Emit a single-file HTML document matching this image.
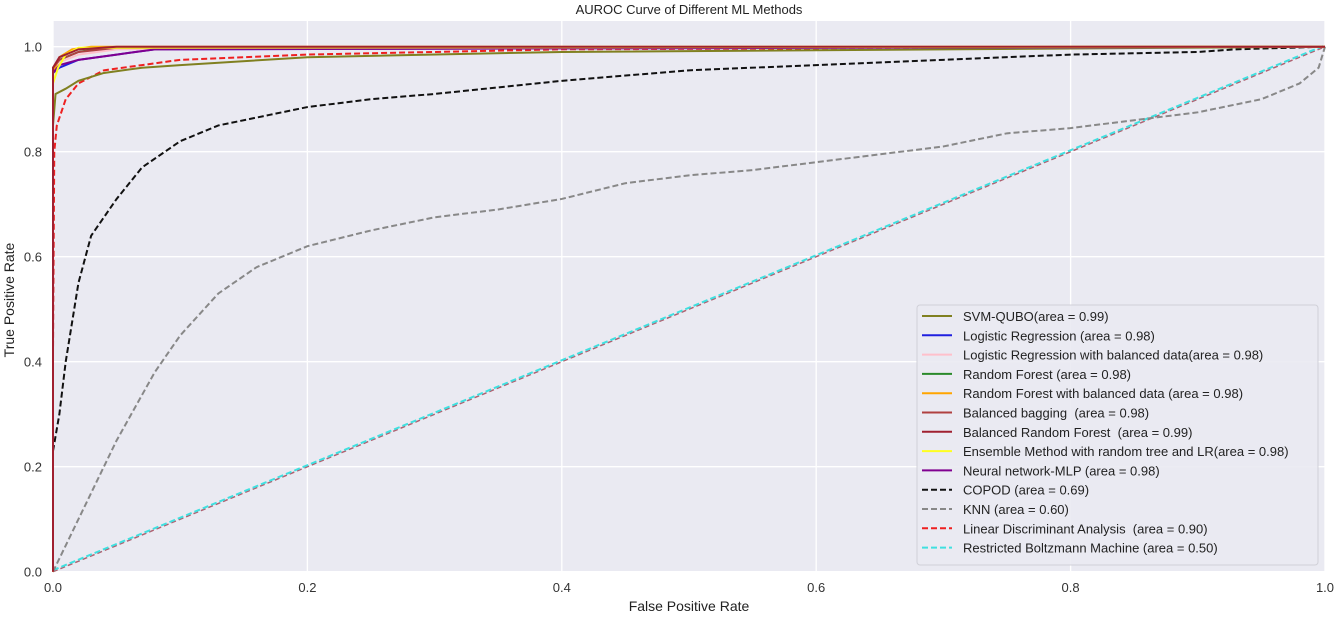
<!DOCTYPE html>
<html><head><meta charset="utf-8"><style>
body{margin:0;background:#fff;font-family:"Liberation Sans",sans-serif;}
#legend text{white-space:pre;}
</style></head><body>
<svg id="chart" width="1336" height="616" xmlns="http://www.w3.org/2000/svg" font-family="Liberation Sans, sans-serif">
<text x="689" y="14" text-anchor="middle" font-size="13" fill="#222">AUROC Curve of Different ML Methods</text>
<rect x="53" y="21" width="1272" height="551" fill="#eaeaf2"/>
<g id="grid"></g><g id="curves"></g><g id="ticks"></g>
<text x="689" y="611" text-anchor="middle" font-size="14" fill="#222">False Positive Rate</text>
<text x="14" y="300" text-anchor="middle" font-size="14" fill="#222" transform="rotate(-90 14 300)">True Positive Rate</text>
<g id="legend"></g>
</svg>
<script>
const xTicks=[0,0.2,0.4,0.6,0.8,1.0];
const yTicks=[0,0.2,0.4,0.6,0.8,1.0];
const names=["SVM-QUBO(area = 0.99)","Logistic Regression (area = 0.98)","Logistic Regression with balanced data(area = 0.98)","Random Forest (area = 0.98)","Random Forest with balanced data (area = 0.98)","Balanced bagging  (area = 0.98)","Balanced Random Forest  (area = 0.99)","Ensemble Method with random tree and LR(area = 0.98)","Neural network-MLP (area = 0.98)","COPOD (area = 0.69)","KNN (area = 0.60)","Linear Discriminant Analysis  (area = 0.90)","Restricted Boltzmann Machine (area = 0.50)"];
const colors=["#808020","#1f1fdf","#ffc0cb","#2a8a2a","#ffa500","#b04040","#a02030","#ffff20","#800090","#111","#888","#ee2020","#40e0e0"];
const dashed=[0,0,0,0,0,0,0,0,0,1,1,1,1];
const fpr=[
[0,0,0.002,0.01,0.02,0.04,0.07,0.1,0.2,0.4,1],
[0,0,0.005,0.02,0.05,0.08,1],
[0,0,0.005,0.02,0.05,1],
[0,0,0.005,0.02,0.04,1],
[0,0,0.005,0.015,0.03,1],
[0,0,0.005,0.02,0.05,1],
[0,0,0.005,0.02,0.05,1],
[0,0,0.004,0.01,0.02,1],
[0,0,0.005,0.02,0.05,0.08,1],
[0,0.005,0.01,0.02,0.03,0.05,0.07,0.1,0.13,0.17,0.2,0.25,0.3,0.4,0.5,0.6,0.7,0.8,0.9,0.93,1],
[0,0.02,0.05,0.08,0.1,0.13,0.16,0.2,0.25,0.3,0.35,0.4,0.45,0.5,0.55,0.6,0.65,0.7,0.75,0.8,0.85,0.9,0.95,0.98,0.995,1],
[0,0,0.001,0.003,0.01,0.02,0.04,0.07,0.1,0.2,0.4,1],
[0,1]];
const tpr=[
[0,0.85,0.91,0.92,0.935,0.95,0.96,0.965,0.98,0.99,1],
[0,0.95,0.96,0.975,0.985,0.995,1],
[0,0.95,0.97,0.985,0.995,1],
[0,0.96,0.975,0.99,0.998,1],
[0,0.95,0.98,0.995,1,1],
[0,0.96,0.975,0.99,0.998,1],
[0,0.96,0.98,0.995,1,1],
[0,0.93,0.96,0.985,0.998,1],
[0,0.95,0.965,0.975,0.985,0.995,1],
[0.23,0.3,0.4,0.55,0.64,0.71,0.77,0.82,0.85,0.87,0.885,0.9,0.91,0.935,0.955,0.965,0.975,0.985,0.99,0.995,1],
[0,0.1,0.25,0.38,0.45,0.53,0.58,0.62,0.65,0.675,0.69,0.71,0.74,0.755,0.765,0.78,0.795,0.81,0.835,0.845,0.86,0.875,0.9,0.93,0.96,1],
[0,0.42,0.8,0.85,0.9,0.93,0.955,0.965,0.975,0.985,0.995,1],
[0,1]];
const ns="http://www.w3.org/2000/svg";
const X=v=>53+v*1272, Y=v=>571.7-v*525;
function mk(t,a,p){const e=document.createElementNS(ns,t);for(const k in a)e.setAttribute(k,a[k]);p.appendChild(e);return e;}
const grid=document.getElementById('grid'),ticks=document.getElementById('ticks'),curves=document.getElementById('curves'),legend=document.getElementById('legend');
xTicks.forEach(v=>{const l=mk('line',{x1:X(v),x2:X(v),y1:21,y2:572,stroke:'#fff','stroke-width':1.3},grid);


const t=mk('text',{x:X(v),y:592,'text-anchor':'middle','font-size':13,fill:'#333'},ticks);t.textContent=v.toFixed(1);

});
yTicks.forEach(v=>{const l=mk('line',{x1:53,x2:1325,y1:Y(v),y2:Y(v),stroke:'#fff','stroke-width':1.3},grid);


const t=mk('text',{x:42,y:Y(v)+5,'text-anchor':'end','font-size':13,fill:'#333'},ticks);t.textContent=v.toFixed(1);

});
const diag=mk('polyline',{points:`${X(0)},${Y(0)} ${X(1)},${Y(1)}`,fill:'none',stroke:'#b06070','stroke-width':1.5,'stroke-dasharray':'5,3'},curves);


const order=[12,10,9,11,0,1,2,3,4,5,8,7,6];
order.forEach(i=>{const pts=fpr[i].map((f,j)=>X(f)+','+(Y(tpr[i][j])-(i==12?1.5:0))).join(' ');
const a={points:pts,fill:'none',stroke:colors[i],'stroke-width':2};if(dashed[i])a['stroke-dasharray']='6,3';
const p=mk('polyline',a,curves);

});
const bg=mk('rect',{x:917,y:305,width:401,height:260,rx:3,fill:'#eaeaf2',stroke:'#d0d0d8','fill-opacity':0.9},legend);


names.forEach((n,i)=>{const y=316+i*19.3;
const g=mk('g',{},legend);


const a={x1:922,x2:952,y1:y,y2:y,stroke:colors[i],'stroke-width':2};if(dashed[i])a['stroke-dasharray']='6,3';mk('line',a,g);
const t=mk('text',{x:963,y:y+5,'font-size':13,fill:'#222'},g);t.textContent=n;});
</script>
</body></html>
